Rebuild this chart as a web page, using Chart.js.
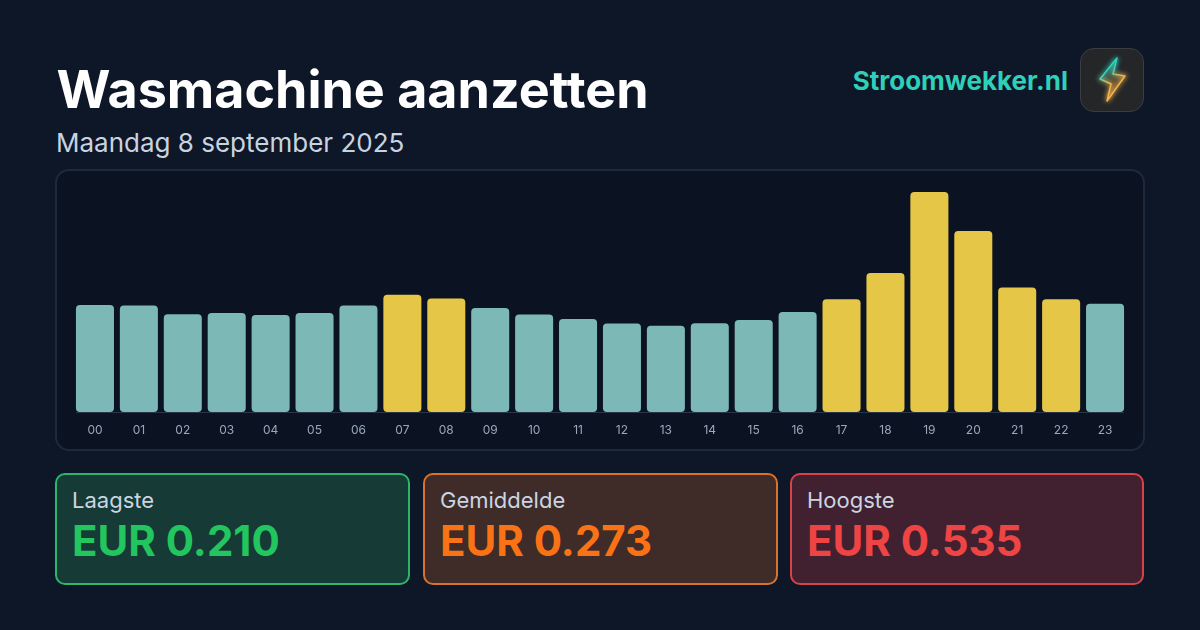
<!DOCTYPE html>
<html lang="nl">
<head>
<meta charset="utf-8">
<title>Wasmachine aanzetten</title>
<script src="https://cdn.jsdelivr.net/npm/chart.js@4/dist/chart.umd.min.js"></script>
<style>
  * { box-sizing: border-box; margin: 0; padding: 0; }
  html, body { width: 1200px; height: 630px; overflow: hidden; }
  body { background: #0e1728; font-family: Inter, sans-serif; position: relative; }
  .title { position: absolute; left: 56.5px; top: 59px; font-size: 52px; line-height: 62px; font-weight: 700; color: #fff; white-space: nowrap; }
  .date { position: absolute; left: 56px; top: 127px; font-size: 26px; line-height: 32px; color: #c8d3e0; white-space: nowrap; }
  .brand { position: absolute; right: 132px; top: 64px; font-size: 26px; line-height: 34px; font-weight: 700; color: #2fd0b8; white-space: nowrap; }
  .logo { position: absolute; left: 1080px; top: 48px; width: 64px; height: 64px; border-radius: 14px; background: #242628; border: 1px solid #3a3d42; }
  .panel { position: absolute; left: 55px; top: 169px; width: 1090px; height: 282px; border-radius: 14px; background: #0b1221; border: 2px solid #1e293b; }
  #chart { position: absolute; left: 56px; top: 170px; }
  .card { position: absolute; top: 473px; width: 355px; height: 112px; border-radius: 10px; border: 2px solid; padding: 12px 15px; }
  .card .lbl { font-size: 22px; line-height: 26px; color: #cbd5e1; }
  .card .val { font-size: 42px; line-height: 50px; font-weight: 700; margin-top: 3px; white-space: nowrap; }
</style>
</head>
<body>
<div class="title">Wasmachine aanzetten</div>
<div class="date">Maandag 8 september 2025</div>
<div class="brand">Stroomwekker.nl</div>
<div class="logo">
  <svg width="62" height="62" viewBox="0 0 62 62">
    <defs>
      <linearGradient id="bolt" x1="0" y1="0" x2="0.35" y2="1">
        <stop offset="0.35" stop-color="#2dd4bf"/>
        <stop offset="0.65" stop-color="#f4b24a"/>
      </linearGradient>
      <filter id="glow" x="-60%" y="-60%" width="220%" height="220%">
        <feGaussianBlur stdDeviation="2.4"/>
      </filter>
    </defs>
    <path d="M36 9 L19 30 L30 35 L26 52 L44 27 L32 25 Z" fill="none" stroke="url(#bolt)" stroke-width="2.5" filter="url(#glow)"/>
    <path d="M36 9 L19 30 L30 35 L26 52 L44 27 L32 25 Z" fill="url(#bolt)" fill-opacity="0.25" stroke="url(#bolt)" stroke-width="1.5" stroke-linejoin="round"/>
  </svg>
</div>
<div class="panel"></div>
<canvas id="chart" width="1088" height="280"></canvas>
<div id="cards"></div>

<script>
const hours = ["00","01","02","03","04","05","06","07","08","09","10","11","12","13","14","15","16","17","18","19","20","21","22","23"];
const prices = [0.260,0.259,0.238,0.241,0.236,0.241,0.259,0.285,0.276,0.253,0.237,0.226,0.215,0.210,0.216,0.224,0.243,0.274,0.338,0.535,0.440,0.303,0.274,0.263];
const average = 0.273;

const cardLabels = ["Laagste", "Gemiddelde", "Hoogste"];
const cardValues = ["EUR 0.210", "EUR 0.273", "EUR 0.535"];
const cardLefts = [55, 423, 790];
const cardColors = ["#22c55e", "#f97316", "#ef4444"];
const cardBorders = ["#2fb56a", "#d9722a", "#d8434a"];
const cardFills = ["#163a36", "#3f2c28", "#412130"];

function el(id) {
  return document.getElementById(id);
}

function renderCards() {
  cardLabels.forEach((label, i) => {
    const card = document.createElement("div");
    card.className = "card";
    card.style.left = `${cardLefts[i]}px`;
    card.style.width = i === 2 ? "354px" : "355px";
    card.style.background = cardFills[i];
    card.style.borderColor = cardBorders[i];
    card.innerHTML = `<div class="lbl">${label}</div><div class="val" style="color:${cardColors[i]}">${cardValues[i]}</div>`;
    el("cards").appendChild(card);
  });
}

// baseline only runs from the first bar's left edge to the last bar's right edge
const baseline = {
  id: "baseline",
  beforeDatasetsDraw(chart) {
    const bars = chart.getDatasetMeta(0).data;
    const first = bars[0];
    const last = bars[bars.length - 1];
    const y = chart.scales.y.getPixelForValue(0);
    const { ctx } = chart;
    ctx.save();
    ctx.strokeStyle = "#2a3648";
    ctx.lineWidth = 1;
    ctx.beginPath();
    ctx.moveTo(first.x - first.width / 2, y + 0.5);
    ctx.lineTo(last.x + last.width / 2, y + 0.5);
    ctx.stroke();
    ctx.restore();
  },
};

function renderChart() {
  new Chart(el("chart"), {
    type: "bar",
    data: {
      labels: hours,
      datasets: [{
        data: prices,
        backgroundColor: prices.map((p) => (p > average ? "#e6c646" : "#7cb8b6")),
        borderRadius: 4,
        borderSkipped: false,
        categoryPercentage: 1,
        barPercentage: 0.866,
      }],
    },
    options: {
      responsive: false,
      animation: false,
      layout: { padding: { left: 17, right: 17, top: 22, bottom: 0 } },
      plugins: { legend: { display: false }, tooltip: { enabled: false } },
      scales: {
        x: {
          grid: { display: false },
          border: { display: false },
          ticks: { color: "#9aa8bb", font: { family: "Inter", size: 12 }, padding: 3, maxRotation: 0, autoSkip: false },
          afterFit(scale) {
            scale.height = 38;
          },
        },
        y: { display: false, min: 0, max: 0.535 },
      },
    },
    plugins: [baseline],
  });
}

document.addEventListener("DOMContentLoaded", () => {
  renderCards();
  renderChart();
});
</script>
</body>
</html>
